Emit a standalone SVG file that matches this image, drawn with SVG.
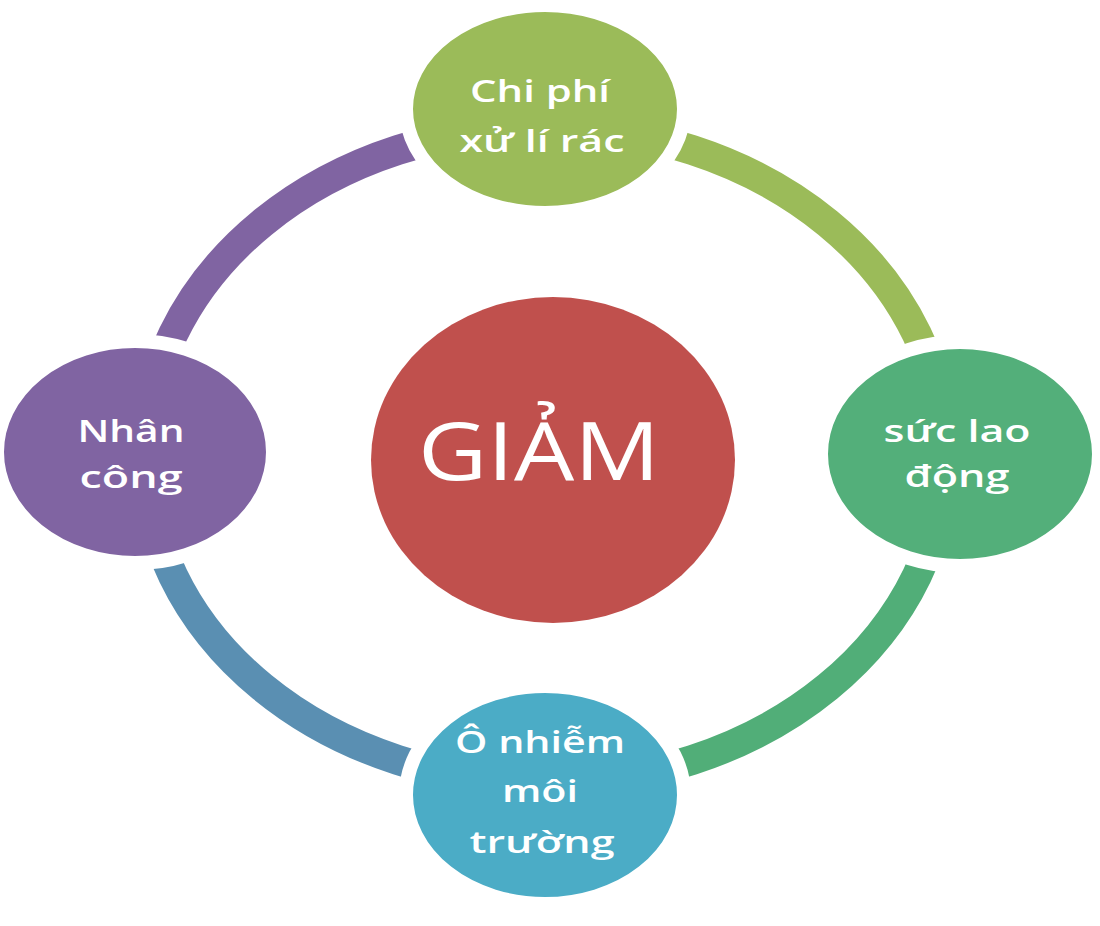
<svg xmlns="http://www.w3.org/2000/svg" width="1100" height="926" viewBox="0 0 1100 926">
<style>
.arc{fill:none;stroke-width:30}
.node{stroke:#fff;stroke-width:14}
.lbl{font-family:"Open Sans","Liberation Sans",sans-serif;font-weight:600;font-size:31px;fill:#fff;text-anchor:middle}
.big{font-family:"Open Sans","Liberation Sans",sans-serif;font-weight:500;font-size:80px;fill:#fff;text-anchor:middle}
</style>
<rect width="1100" height="926" fill="#fff"/>
<g id="connectors">
<path class="arc" stroke="#8064A2" d="M545,127 A400,328 0 0 0 145,455"/>
<path class="arc" stroke="#9BBB59" d="M545,127 A400,328 0 0 1 945,455"/>
<path class="arc" stroke="#51AE78" d="M945,455 A400,328 0 0 1 545,783"/>
<path class="arc" stroke="#5A8FB2" d="M545,783 A400,328 0 0 1 145,455"/>
</g>
<g id="center">
<ellipse cx="553" cy="460" rx="182" ry="163" fill="#C0504D"/>
<text class="big" x="539" y="480" textLength="242" lengthAdjust="spacingAndGlyphs">GIẢM</text>
</g>
<g id="top">
<ellipse class="node" cx="545" cy="109" rx="139" ry="104" fill="#9BBB59"/>
<text class="lbl" x="540" y="102" textLength="140" lengthAdjust="spacingAndGlyphs">Chi phí</text>
<text class="lbl" x="542" y="152" textLength="165" lengthAdjust="spacingAndGlyphs">xử lí rác</text>
</g>
<g id="left">
<ellipse class="node" cx="135" cy="452" rx="138" ry="111" fill="#8064A2"/>
<text class="lbl" x="131" y="442" textLength="107" lengthAdjust="spacingAndGlyphs">Nhân</text>
<text class="lbl" x="131" y="488" textLength="103" lengthAdjust="spacingAndGlyphs">công</text>
</g>
<g id="right">
<ellipse class="node" cx="960" cy="454" rx="139" ry="112" fill="#53AF7A"/>
<text class="lbl" x="957" y="442" textLength="147" lengthAdjust="spacingAndGlyphs">sức lao</text>
<text class="lbl" x="957" y="487" textLength="105" lengthAdjust="spacingAndGlyphs">động</text>
</g>
<g id="bottom">
<ellipse class="node" cx="545" cy="795" rx="139" ry="109" fill="#4BACC6"/>
<text class="lbl" x="540" y="753" textLength="170" lengthAdjust="spacingAndGlyphs">Ô nhiễm</text>
<text class="lbl" x="540" y="802" textLength="76" lengthAdjust="spacingAndGlyphs">môi</text>
<text class="lbl" x="542" y="853" textLength="145" lengthAdjust="spacingAndGlyphs">trường</text>
</g>
</svg>
